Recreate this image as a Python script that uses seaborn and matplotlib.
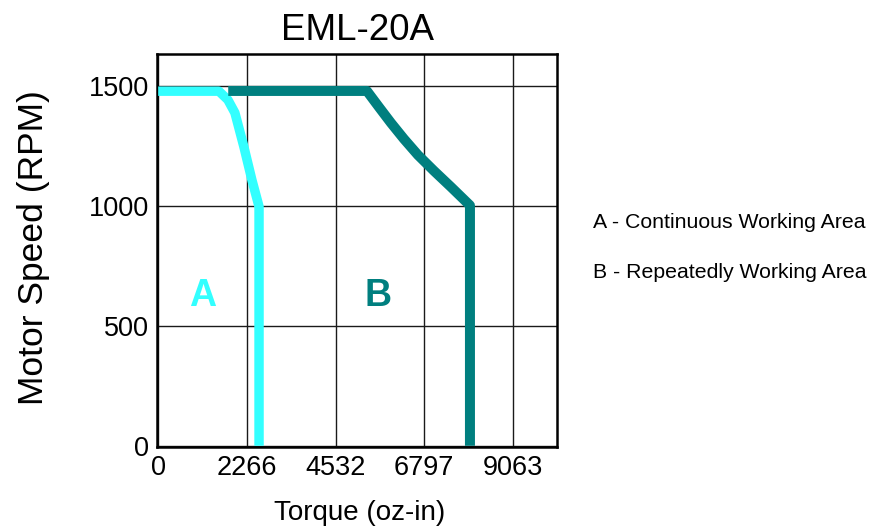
import matplotlib
matplotlib.use("Agg")
import matplotlib.pyplot as plt
import seaborn as sns
import pandas as pd

# ---- data ----
title = "EML-20A"
x_ticks = [0, 2266, 4532, 6797, 9063]
y_ticks = [0, 500, 1000, 1500]

a_torque = [0, 1551, 1781, 1960, 2190, 2395, 2577, 2577]
a_speed = [1478, 1478, 1442, 1388, 1246, 1108, 997, 0]

b_torque = [1790, 5333, 5640, 5947, 6279, 6637, 7046, 7480, 7966, 7966]
b_speed = [1479, 1479, 1412, 1346, 1279, 1212, 1146, 1079, 1002, 0]

legend_lines = ["A - Continuous Working Area", "B - Repeatedly Working Area"]

cyan = "#33FFFF"
teal = "#007F7F"

df_a = pd.DataFrame({"torque": a_torque, "speed": a_speed, "area": "A"})
df_b = pd.DataFrame({"torque": b_torque, "speed": b_speed, "area": "B"})

sns.set_theme(style="white")
plt.rcParams["font.family"] = ["Liberation Sans", "DejaVu Sans"]

fig = plt.figure(figsize=(8.71, 5.27), dpi=100)
ax = fig.add_axes([157 / 871, 1 - 447 / 527, 400 / 871, 393 / 527])

sns.lineplot(data=df_a, x="torque", y="speed", sort=False, estimator=None,
             color=cyan, linewidth=6.8, ax=ax, zorder=3)
sns.lineplot(data=df_b, x="torque", y="speed", sort=False, estimator=None,
             color=teal, linewidth=7.2, ax=ax, zorder=4)
for ln in ax.lines:
    ln.set_solid_capstyle("butt")
    ln.set_solid_joinstyle("round")

ax.set_xlim(-30, 10190)
ax.set_ylim(-5, 1633)
ax.set_xticks(x_ticks)
ax.set_xticklabels([str(v) for v in x_ticks])
ax.set_yticks(y_ticks)
ax.set_yticklabels([str(v) for v in y_ticks])
ax.grid(True, color="#1a1a1a", linewidth=1.0)
ax.set_axisbelow(True)
ax.tick_params(axis="both", length=0, labelsize=19.5, colors="black")
ax.tick_params(axis="x", pad=6)
ax.tick_params(axis="y", pad=6)
for s in ax.spines.values():
    s.set_visible(True)
    s.set_color("black")
    s.set_linewidth(1.8)

ax.set_title(title, fontsize=26.5, pad=10, color="black")
ax.set_xlabel("Torque (oz-in)", fontsize=20, color="black")
ax.xaxis.set_label_coords(0.5075, -0.135)
ax.set_ylabel("Motor Speed (RPM)", fontsize=25.5, color="black")
ax.yaxis.set_label_coords(-0.2675, 0.5076)

ax.text(1142, 625, "A", color=cyan, fontsize=27, fontweight="bold",
        ha="center", va="center", zorder=5)
ax.text(5614, 625, "B", color=teal, fontsize=27, fontweight="bold",
        ha="center", va="center", zorder=5)

fig.text(593 / 871, 1 - 222 / 527, legend_lines[0], fontsize=15.3,
         ha="left", va="center", color="black")
fig.text(593 / 871, 1 - 272 / 527, legend_lines[1], fontsize=15.3,
         ha="left", va="center", color="black")

fig.savefig("out.png", dpi=100)
